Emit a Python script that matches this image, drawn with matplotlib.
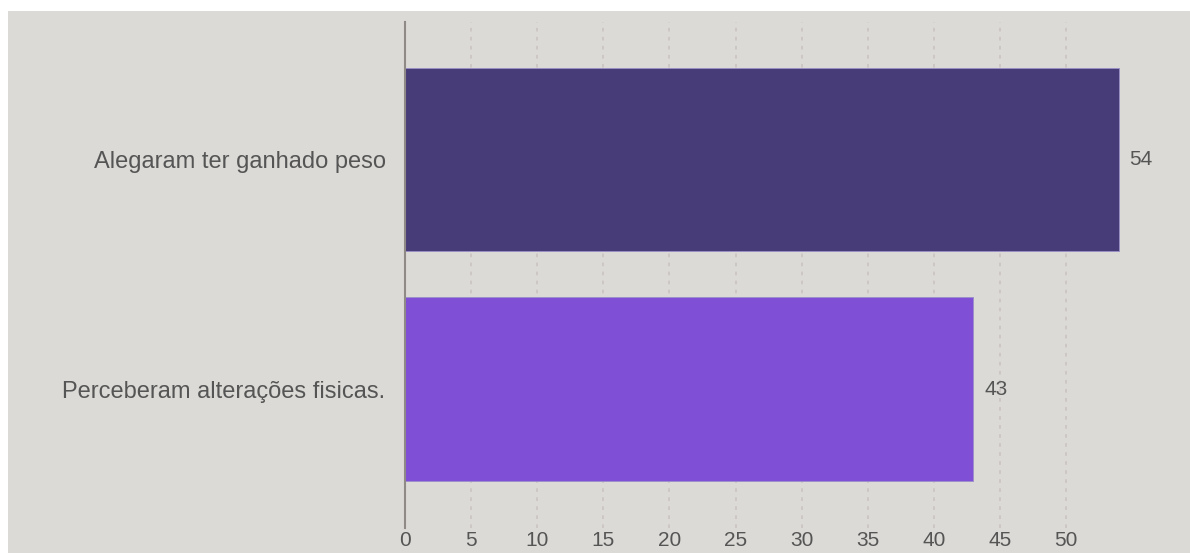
import matplotlib.pyplot as plt
from matplotlib.patches import Rectangle

# data
categories = ["Alegaram ter ganhado peso", "Perceberam alterações fisicas."]
values = [54, 43]
colors = ["#483c78", "#7f4fd6"]
xticks = [0, 5, 10, 15, 20, 25, 30, 35, 40, 45, 50]

W, H = 1190, 553
fig = plt.figure(figsize=(W / 100, H / 100), dpi=100)
fig.patch.set_facecolor("white")
bg = "#dbdad6"
fig.patches.append(Rectangle((8 / W, 0), 1 - 8 / W, 1 - 11 / H,
                             transform=fig.transFigure, facecolor=bg,
                             edgecolor="none", zorder=-5))

ax = fig.add_axes([405 / W, (H - 528) / H, (W - 405) / W, (528 - 22) / H])
ax.set_facecolor(bg)

y = list(range(len(categories)))
ax.barh(y, values, height=0.8, color=colors, edgecolor="#9a8fc8",
        linewidth=0.6, zorder=3)
ax.set_ylim(1.605, -0.6)
ax.set_xlim(0, 785 / 13.22)

for yi, v in zip(y, values):
    ax.text(v + 0.8, yi, str(v), va="center", ha="left", fontsize=15,
            color="#555555", family="Liberation Sans", zorder=4)

ax.set_yticks(y)
ax.set_yticklabels(categories, fontsize=17, color="#555555",
                   family="Liberation Sans")
ax.set_xticks(xticks)
ax.set_xticklabels([str(t) for t in xticks], fontsize=15, color="#555555",
                   family="Liberation Sans")
ax.tick_params(axis="y", length=0, pad=14)
ax.tick_params(axis="x", length=0, pad=2)

for t in xticks[1:]:
    ax.axvline(t, color="#cbc4c4", linestyle=(0, (2, 3)), linewidth=1.3,
               zorder=1)

for s in ["top", "right", "bottom"]:
    ax.spines[s].set_visible(False)
ax.spines["left"].set_color("#8f8a85")
ax.spines["left"].set_linewidth(1.5)
ax.spines["left"].set_zorder(5)

fig.savefig("out.png", dpi=100, facecolor="white")
